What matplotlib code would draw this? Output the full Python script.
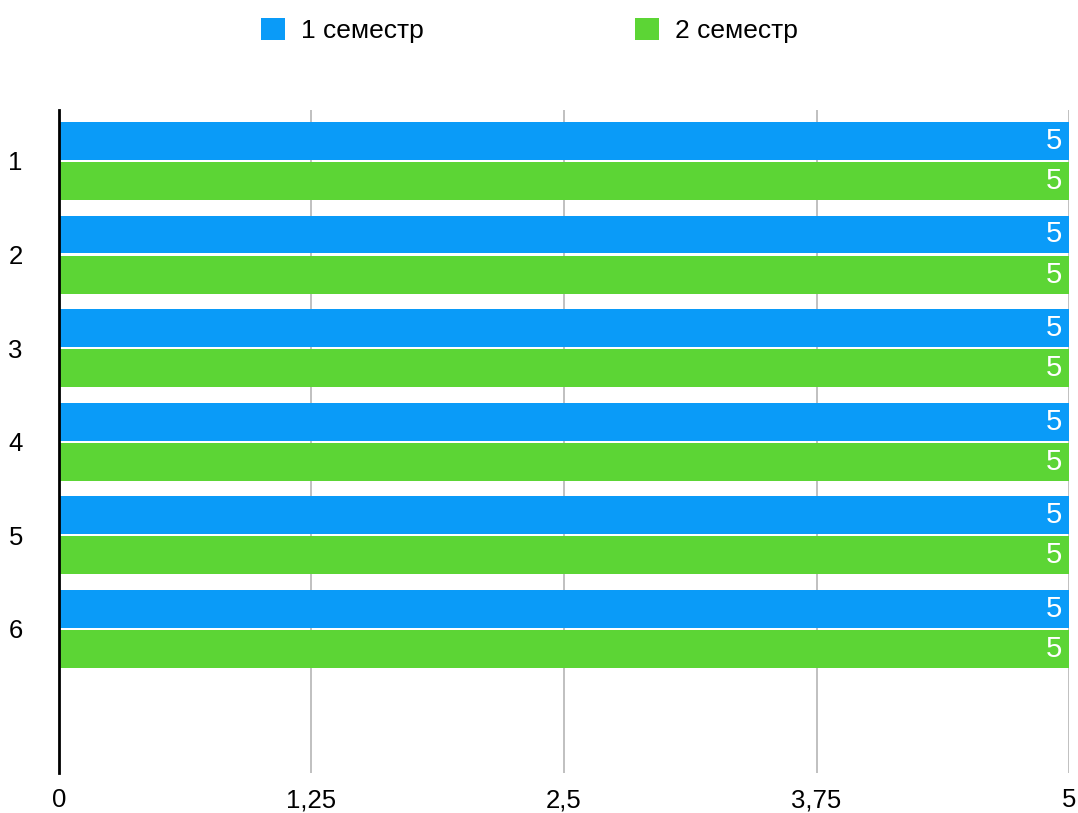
import matplotlib
matplotlib.use('Agg')
import matplotlib.pyplot as plt
import numpy as np

plt.rcParams['font.family'] = ['Liberation Sans', 'DejaVu Sans']

categories = ["1", "2", "3", "4", "5", "6"]
sem1 = [5, 5, 5, 5, 5, 5]
sem2 = [5, 5, 5, 5, 5, 5]
series_names = ["1 семестр", "2 семестр"]
xticks = [0, 1.25, 2.5, 3.75, 5]
xtick_labels = ["0", "1,25", "2,5", "3,75", "5"]

BLUE = "#0A9BF8"
GREEN = "#5CD535"

fig = plt.figure(figsize=(10.78, 8.13), dpi=100)
ax = fig.add_axes([0.0547, 0.0492, 0.937, 0.8155])

y = np.arange(len(categories))
h = 0.405
b1 = ax.barh(y - 0.215, sem1, height=h, color=BLUE, label=series_names[0], zorder=3)
b2 = ax.barh(y + 0.215, sem2, height=h, color=GREEN, label=series_names[1], zorder=3)

for bars, vals in ((b1, sem1), (b2, sem2)):
    for bar, v in zip(bars, vals):
        ax.annotate(f"{v}", (v, bar.get_y() + bar.get_height() / 2),
                    xytext=(-5, 0), textcoords="offset points",
                    ha="right", va="center", color="white", fontsize=21, zorder=4)

ax.set_xlim(0, 5)
ax.set_ylim(6.54, -0.545)
ax.set_xticks(xticks)
ax.set_xticklabels(xtick_labels, fontsize=18.5)
ax.set_yticks(y)
ax.set_yticklabels(categories, fontsize=18.5)
ax.tick_params(axis="both", length=0)
ax.tick_params(axis="y", pad=26)
ax.tick_params(axis="x", pad=11)
ax.grid(axis="x", color="#b5b5b5", linewidth=1.2, zorder=0)
for side in ("top", "right", "bottom"):
    ax.spines[side].set_visible(False)
ax.spines["left"].set_linewidth(2)
ax.spines["left"].set_color("black")
ax.spines["left"].set_zorder(5)

fig.legend(handles=[b1, b2], labels=series_names, loc="upper center",
           bbox_to_anchor=(0.491, 1.007), ncol=2, frameon=False, fontsize=19,
           handlelength=0.92, handleheight=0.92, columnspacing=8.0, handletextpad=0.6)

fig.savefig("out.png", dpi=100)
